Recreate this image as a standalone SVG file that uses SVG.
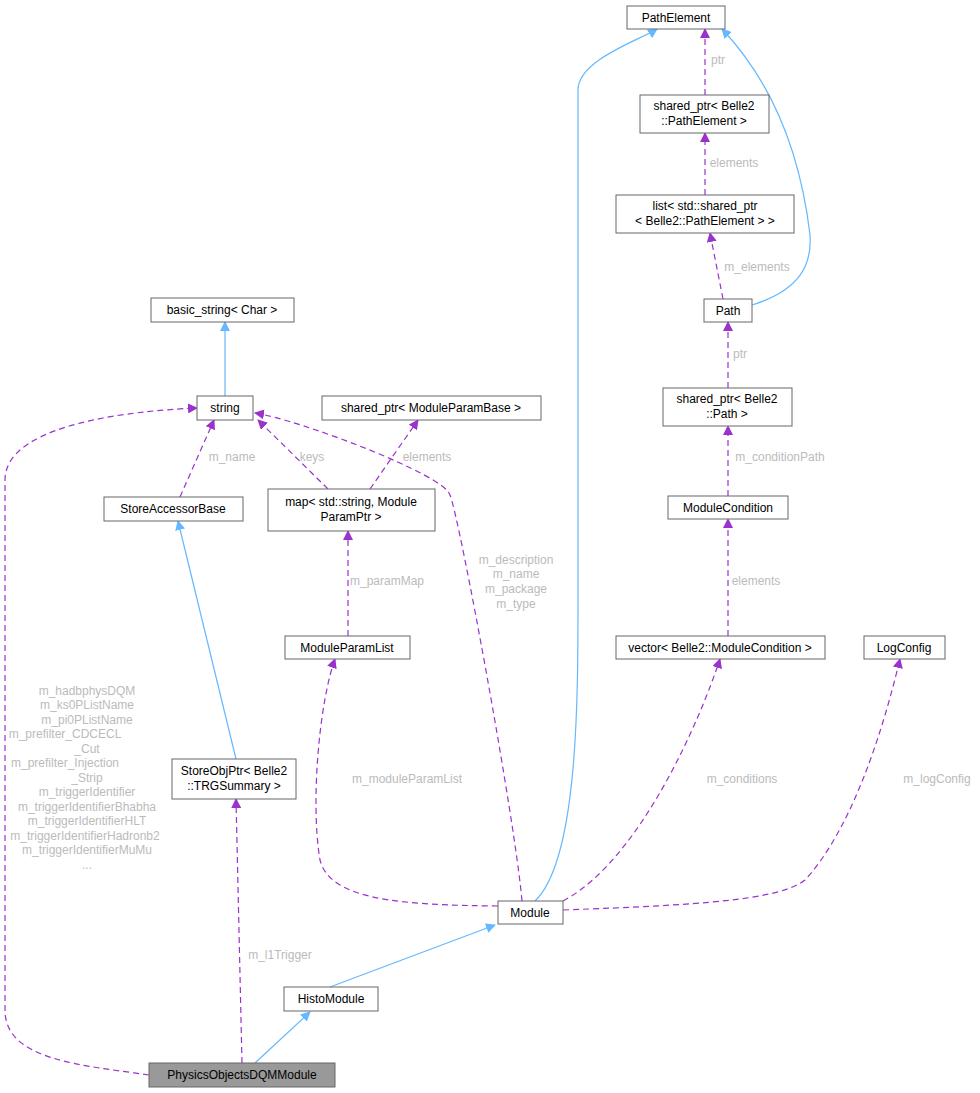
<svg xmlns="http://www.w3.org/2000/svg" width="980" height="1093" viewBox="0 0 980 1093">
<style>
.n rect{fill:#fff;stroke:#666;stroke-width:1}
.n text{font-family:"Liberation Sans",Arial,sans-serif;font-size:12px;fill:#000;text-anchor:middle}
.d{fill:none;stroke:#9a32cd;stroke-width:1.2;stroke-dasharray:6,4;marker-end:url(#pa)}
.b{fill:none;stroke:#63b8ff;stroke-width:1.2;marker-end:url(#ba)}
.l{font-family:"Liberation Sans",Arial,sans-serif;font-size:12px;fill:#bbb;text-anchor:middle}
</style>
<defs>
<marker id="pa" viewBox="0 0 10 10" refX="9" refY="5" markerWidth="10" markerHeight="10" markerUnits="userSpaceOnUse" orient="auto"><path d="M0,0L10,5L0,10z" fill="#9a32cd"/></marker>
<marker id="ba" viewBox="0 0 10 10" refX="9" refY="5" markerWidth="10" markerHeight="10" markerUnits="userSpaceOnUse" orient="auto"><path d="M0,0L10,5L0,10z" fill="#63b8ff"/></marker>
</defs>
<rect width="980" height="1093" fill="#fff"/>
<g id="edges">
<path class="b" d="M330,987L495,925"/>
<path class="b" d="M255,1063L310,1012"/>
<path class="b" d="M225,396L225,322"/>
<path class="b" d="M236,759L178,521"/>
<path class="b" d="M535,901C578,860 578,700 578,600L578,90C578,60 640,40 657,29"/>
<path class="b" d="M752,305C800,290 812,265 810,235C800,150 770,80 722,29"/>
<path class="d" d="M705,95L705,29"/><text class="l" x="718" y="64">ptr</text>
<path class="d" d="M705,195L705,133"/><text class="l" x="734" y="167">elements</text>
<path class="d" d="M723,299L710,233"/><text class="l" x="757" y="271">m_elements</text>
<path class="d" d="M728,388L728,322"/><text class="l" x="740" y="358">ptr</text>
<path class="d" d="M728,496L728,426"/><text class="l" x="780" y="461">m_conditionPath</text>
<path class="d" d="M728,636L728,519"/><text class="l" x="756" y="585">elements</text>
<path class="d" d="M563,901C640,860 700,720 720,659"/><text class="l" x="742" y="783">m_conditions</text>
<path class="d" d="M563,910C700,905 780,900 805,880C860,820 890,700 900,659"/><text class="l" x="937" y="783">m_logConfig</text>
<path class="d" d="M498,906C400,905 330,900 320,860C310,800 320,700 335,659"/><text class="l" x="407" y="783">m_moduleParamList</text>
<path class="d" d="M522,901C515,820 460,520 450,495C445,475 300,420 255,413"/>
<text class="l" x="516" y="564">m_description</text><text class="l" x="516" y="578">m_name</text><text class="l" x="516" y="593">m_package</text><text class="l" x="516" y="608">m_type</text>
<path class="d" d="M348,636L348,531"/><text class="l" x="387" y="585">m_paramMap</text>
<path class="d" d="M328,489L258,420"/><text class="l" x="312" y="461">keys</text>
<path class="d" d="M370,489L418,420"/><text class="l" x="427" y="461">elements</text>
<path class="d" d="M180,497L214,420"/><text class="l" x="232" y="461">m_name</text>
<path class="d" d="M242,1063L236,799"/><text class="l" x="280" y="959">m_l1Trigger</text>
<path class="d" d="M149,1075C80,1065 5,1060 5,1010L5,480C5,420 150,410 197,408"/>
<g class="l">
<text x="87" y="695">m_hadbphysDQM</text>
<text x="87" y="709">m_ks0PListName</text>
<text x="87" y="724">m_pi0PListName</text>
<text x="65" y="738">m_prefilter_CDCECL</text>
<text x="87" y="753">_Cut</text>
<text x="65" y="767">m_prefilter_Injection</text>
<text x="87" y="782">_Strip</text>
<text x="87" y="796">m_triggerIdentifier</text>
<text x="87" y="811">m_triggerIdentifierBhabha</text>
<text x="87" y="825">m_triggerIdentifierHLT</text>
<text x="85" y="840">m_triggerIdentifierHadronb2</text>
<text x="87" y="854">m_triggerIdentifierMuMu</text>
<text x="87" y="869">...</text>
</g>
</g>
<g id="PathElement" class="n"><rect x="627" y="6" width="98" height="23"/><text x="676" y="22">PathElement</text></g>
<g id="spPathElement" class="n"><rect x="640" y="95" width="129" height="38"/><text x="704" y="110">shared_ptr&lt; Belle2</text><text x="704" y="125">::PathElement &gt;</text></g>
<g id="listPE" class="n"><rect x="616" y="195" width="178" height="38"/><text x="705" y="210">list&lt; std::shared_ptr</text><text x="705" y="225">&lt; Belle2::PathElement &gt; &gt;</text></g>
<g id="Path" class="n"><rect x="704" y="299" width="48" height="23"/><text x="728" y="315">Path</text></g>
<g id="spPath" class="n"><rect x="663" y="388" width="129" height="38"/><text x="727" y="403">shared_ptr&lt; Belle2</text><text x="727" y="418">::Path &gt;</text></g>
<g id="ModuleCondition" class="n"><rect x="668" y="496" width="120" height="23"/><text x="728" y="512">ModuleCondition</text></g>
<g id="vecMC" class="n"><rect x="616" y="636" width="209" height="23"/><text x="720" y="652">vector&lt; Belle2::ModuleCondition &gt;</text></g>
<g id="LogConfig" class="n"><rect x="864" y="636" width="81" height="23"/><text x="904" y="652">LogConfig</text></g>
<g id="basic_string" class="n"><rect x="151" y="298" width="143" height="24"/><text x="222" y="314">basic_string&lt; Char &gt;</text></g>
<g id="string" class="n"><rect x="197" y="396" width="56" height="24"/><text x="225" y="412">string</text></g>
<g id="spMPB" class="n"><rect x="322" y="396" width="219" height="24"/><text x="431" y="412">shared_ptr&lt; ModuleParamBase &gt;</text></g>
<g id="StoreAccessorBase" class="n"><rect x="104" y="497" width="139" height="24"/><text x="173" y="513">StoreAccessorBase</text></g>
<g id="mapMP" class="n"><rect x="268" y="489" width="167" height="42"/><text x="351" y="506">map&lt; std::string, Module</text><text x="351" y="521">ParamPtr &gt;</text></g>
<g id="ModuleParamList" class="n"><rect x="285" y="636" width="125" height="23"/><text x="347" y="652">ModuleParamList</text></g>
<g id="StoreObjPtr" class="n"><rect x="172" y="759" width="124" height="40"/><text x="234" y="775">StoreObjPtr&lt; Belle2</text><text x="234" y="790">::TRGSummary &gt;</text></g>
<g id="Module" class="n"><rect x="498" y="901" width="65" height="23"/><text x="530" y="917">Module</text></g>
<g id="HistoModule" class="n"><rect x="284" y="987" width="94" height="24"/><text x="331" y="1003">HistoModule</text></g>
<g id="PhysicsObjectsDQMModule" class="n"><rect x="149" y="1063" width="186" height="24" style="fill:#999"/><text x="242" y="1079">PhysicsObjectsDQMModule</text></g>
</svg>
